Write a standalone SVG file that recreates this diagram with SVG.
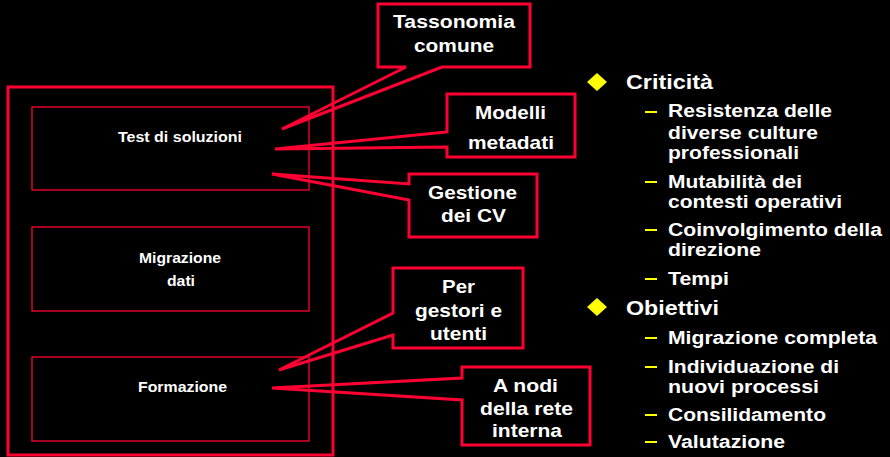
<svg xmlns="http://www.w3.org/2000/svg" width="890" height="457" viewBox="0 0 890 457">
<style>
.co{fill:#000;stroke:#ff0033;stroke-width:3;stroke-linejoin:miter}
.frame{fill:none;stroke:#ff0033;stroke-width:3}
.box{fill:none;stroke:#ff0033;stroke-width:1.3}
text{font-family:"Liberation Sans",Arial,sans-serif;font-weight:bold;fill:#fff}
.ct{font-size:18.5px}
.bt{font-size:14px}
.h{font-size:21px}
.s{font-size:18px}
.dash{stroke:#ffff00;stroke-width:2}
.dia{fill:#ffff00}
</style>
<rect width="890" height="457" fill="#000"/>
<g id="callouts">
<g id="c-tassonomia">
<polygon class="co" points="378,4 530,4 530,67 442,67 282,129 406,67 378,67"/>
<text class="ct" x="393" y="28" textLength="122" lengthAdjust="spacingAndGlyphs">Tassonomia</text>
<text class="ct" x="414" y="52" textLength="80" lengthAdjust="spacingAndGlyphs">comune</text>
</g>
<g id="c-modelli">
<polygon class="co" points="447,94 575,94 575,157 447,157 447,147 275,149 447,132"/>
<text class="ct" x="475" y="119" textLength="71" lengthAdjust="spacingAndGlyphs">Modelli</text>
<text class="ct" x="468" y="149" textLength="86" lengthAdjust="spacingAndGlyphs">metadati</text>
</g>
<g id="c-gestione">
<polygon class="co" points="409,174 537,174 537,237 409,237 409,200 272,174 409,184"/>
<text class="ct" x="428" y="199" textLength="89" lengthAdjust="spacingAndGlyphs">Gestione</text>
<text class="ct" x="441" y="222" textLength="65" lengthAdjust="spacingAndGlyphs">dei CV</text>
</g>
<g id="c-per">
<polygon class="co" points="393,268 523,268 523,348 393,348 393,335 279,370 393,313"/>
<text class="ct" x="442" y="293" textLength="33" lengthAdjust="spacingAndGlyphs">Per</text>
<text class="ct" x="415" y="317" textLength="87" lengthAdjust="spacingAndGlyphs">gestori e</text>
<text class="ct" x="430" y="340" textLength="57" lengthAdjust="spacingAndGlyphs">utenti</text>
</g>
<g id="c-anodi">
<polygon class="co" points="462,367 590,367 590,445 462,445 462,400 272,388 462,378"/>
<text class="ct" x="493" y="392" textLength="65" lengthAdjust="spacingAndGlyphs">A nodi</text>
<text class="ct" x="480" y="415" textLength="93" lengthAdjust="spacingAndGlyphs">della rete</text>
<text class="ct" x="492" y="437" textLength="70" lengthAdjust="spacingAndGlyphs">interna</text>
</g>
</g>
<g id="frame">
<rect class="frame" x="8" y="87" width="325" height="368"/>
</g>
<g id="n-test">
<rect class="box" x="32" y="107" width="277" height="83"/>
<text class="bt" x="118" y="142" textLength="124" lengthAdjust="spacingAndGlyphs">Test di soluzioni</text>
</g>
<g id="n-migrazione">
<rect class="box" x="32" y="227" width="277" height="84"/>
<text class="bt" x="139" y="263" textLength="82" lengthAdjust="spacingAndGlyphs">Migrazione</text>
<text class="bt" x="167" y="286" textLength="28" lengthAdjust="spacingAndGlyphs">dati</text>
</g>
<g id="n-formazione">
<rect class="box" x="32" y="357" width="277" height="84"/>
<text class="bt" x="138" y="392" textLength="89" lengthAdjust="spacingAndGlyphs">Formazione</text>
</g>
<g id="list">
<polygon class="dia" points="597,73 607,82 597,91 587,82"/>
<text class="h" x="626" y="89" textLength="87" lengthAdjust="spacingAndGlyphs">Criticità</text>
<line class="dash" x1="645" y1="112" x2="657" y2="112"/>
<text class="s" x="668" y="117" textLength="164" lengthAdjust="spacingAndGlyphs">Resistenza delle</text>
<text class="s" x="668" y="139" textLength="150" lengthAdjust="spacingAndGlyphs">diverse culture</text>
<text class="s" x="668" y="159" textLength="131" lengthAdjust="spacingAndGlyphs">professionali</text>
<line class="dash" x1="645" y1="182" x2="657" y2="182"/>
<text class="s" x="668" y="188" textLength="134" lengthAdjust="spacingAndGlyphs">Mutabilità dei</text>
<text class="s" x="668" y="208" textLength="174" lengthAdjust="spacingAndGlyphs">contesti operativi</text>
<line class="dash" x1="645" y1="230" x2="657" y2="230"/>
<text class="s" x="668" y="236" textLength="214" lengthAdjust="spacingAndGlyphs">Coinvolgimento della</text>
<text class="s" x="668" y="256" textLength="93" lengthAdjust="spacingAndGlyphs">direzione</text>
<line class="dash" x1="645" y1="279" x2="657" y2="279"/>
<text class="s" x="668" y="285" textLength="61" lengthAdjust="spacingAndGlyphs">Tempi</text>
<polygon class="dia" points="597,298 607,307 597,316 587,307"/>
<text class="h" x="626" y="315" textLength="93" lengthAdjust="spacingAndGlyphs">Obiettivi</text>
<line class="dash" x1="645" y1="338" x2="657" y2="338"/>
<text class="s" x="668" y="344" textLength="209" lengthAdjust="spacingAndGlyphs">Migrazione completa</text>
<line class="dash" x1="645" y1="367" x2="657" y2="367"/>
<text class="s" x="668" y="373" textLength="171" lengthAdjust="spacingAndGlyphs">Individuazione di</text>
<text class="s" x="668" y="393" textLength="151" lengthAdjust="spacingAndGlyphs">nuovi processi</text>
<line class="dash" x1="645" y1="415" x2="657" y2="415"/>
<text class="s" x="668" y="421" textLength="158" lengthAdjust="spacingAndGlyphs">Consilidamento</text>
<line class="dash" x1="645" y1="442" x2="657" y2="442"/>
<text class="s" x="668" y="448" textLength="117" lengthAdjust="spacingAndGlyphs">Valutazione</text>
</g>
</svg>
